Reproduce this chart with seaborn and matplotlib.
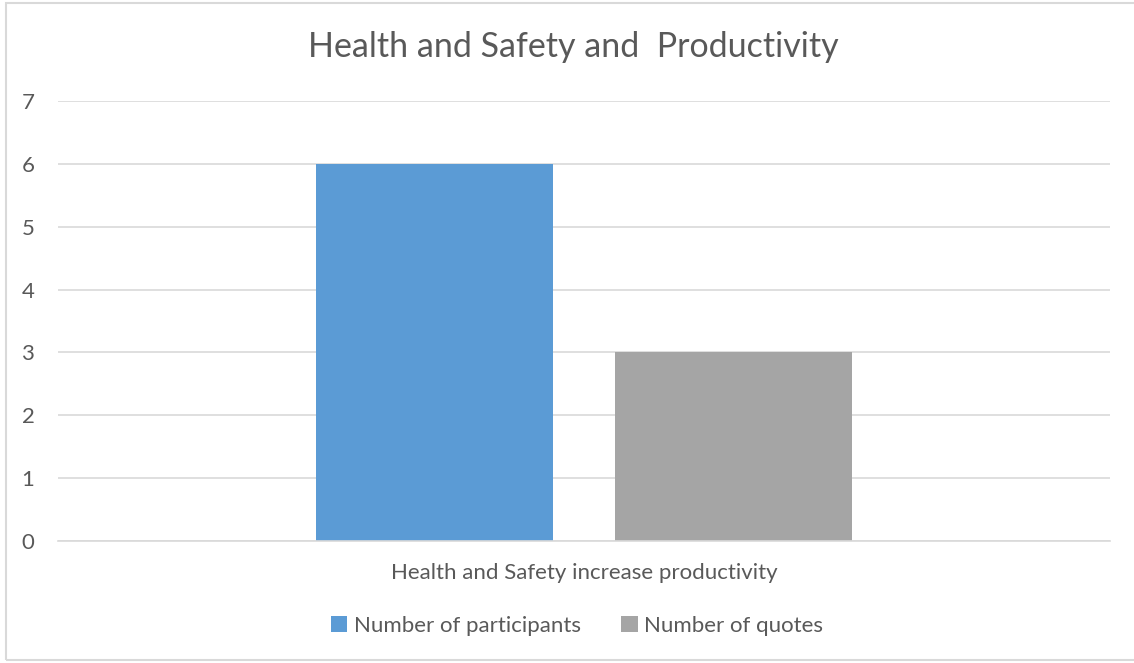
import matplotlib
matplotlib.use("Agg")
import matplotlib.pyplot as plt
import seaborn as sns
import pandas as pd
from matplotlib.patches import Rectangle

categories = ["Health and Safety increase productivity"]
series = ["Number of participants", "Number of quotes"]
participants = [6]
quotes = [3]
colors = ["#5B9BD5", "#A5A5A5"]
yticks = [0, 1, 2, 3, 4, 5, 6, 7]
title = "Health and Safety and  Productivity"

df = pd.DataFrame({
    "category": categories * 2,
    "series": [series[0]] * len(categories) + [series[1]] * len(categories),
    "value": participants + quotes,
})

sns.set_theme(style="white")
plt.rcParams["font.family"] = ["Lato", "DejaVu Sans"]
text_color = "#595959"

fig = plt.figure(figsize=(11.34, 6.63), dpi=100)
ax = fig.add_axes([58/1134, 1-541/663, (1110-58)/1134, (541-101)/663])

sns.barplot(data=df, x="category", y="value", hue="series", palette=colors,
            width=0.57, gap=0.21, ax=ax, saturation=1, legend=True, linewidth=0)

ax.set_ylim(0, 7)
ax.set_xlim(-0.5, 0.5)
ax.set_yticks(yticks)
ax.set_yticklabels([str(t) for t in yticks])
ax.yaxis.grid(True, color="#D9D9D9", linewidth=1.2)
ax.set_axisbelow(True)
for s in ["top", "right", "left"]:
    ax.spines[s].set_visible(False)
ax.spines["bottom"].set_color("#D9D9D9")
ax.spines["bottom"].set_linewidth(1.2)
ax.tick_params(axis="y", length=0, pad=17, labelsize=16, labelcolor=text_color)
ax.tick_params(axis="x", length=0, pad=16, labelsize=16, labelcolor=text_color)
ax.set_xlabel("")
ax.set_ylabel("")

fig.text(573/1134, 1-47/663, title, ha="center", va="center", fontsize=24.5, color=text_color)

handles, labels = ax.get_legend_handles_labels()
ax.legend_.remove()
fig.legend(handles, labels, loc="center", bbox_to_anchor=(577/1134, 1-626/663), ncol=2,
           frameon=False, fontsize=16, labelcolor=text_color, handlelength=0.75,
           handleheight=0.75, handletextpad=0.3, columnspacing=1.8)

fig.patches.append(Rectangle((6/1134, 3/663), 1.0, 1-6/663, transform=fig.transFigure,
                             fill=False, edgecolor="#D9D9D9", linewidth=1.5))

fig.savefig("out.png", dpi=100)
